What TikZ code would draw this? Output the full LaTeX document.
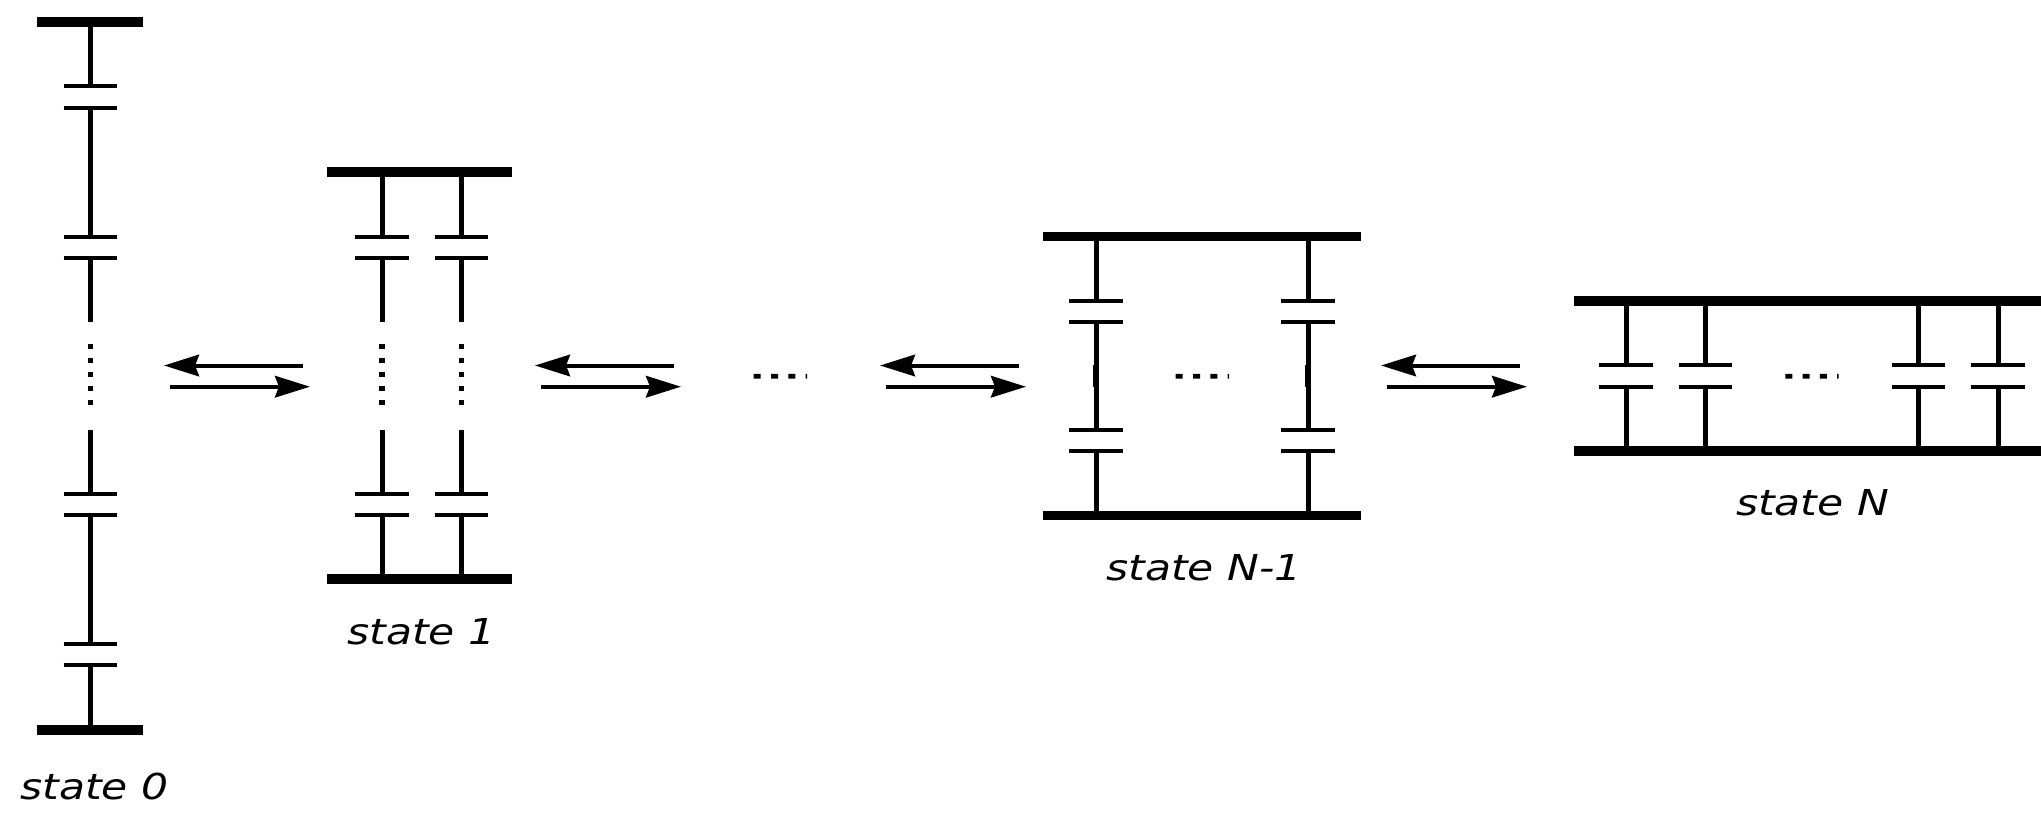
\documentclass[tikz,border=0pt]{standalone}
\usepackage{graphicx}
\usepackage{fontspec}
\setmainfont{DejaVu Sans}
\usetikzlibrary{arrows.meta}
\newcommand{\plates}[2]{\draw[plate] ({#1-26.7},#2) -- ({#1+26.7},#2);}
\newcommand{\wire}[3]{\draw[wirepart] (#1,#2) -- (#1,#3);}
\newcommand{\vdotsat}[1]{\draw[vdash] (#1,344) -- (#1,405);}
\newcommand{\hdotsat}[1]{\fill (#1,373.9) rectangle ++(7,4.6) (#1+17.3,373.9) rectangle ++(7,4.6) (#1+34.6,373.9) rectangle ++(7,4.6) (#1+51.9,373.9) rectangle ++(1.4,4.6);}
\tikzset{
  bar/.style={line width=9.2pt},
  wirepart/.style={line width=5pt},
  plate/.style={line width=4pt},
  vdash/.style={line width=5.6pt,dash pattern=on 5.4pt off 8.6pt},
  revarrow/.style={line width=4pt,-{Stealth[length=35pt,width=21.5pt,inset=4pt]}},
  statelabel/.style={anchor=base,inner sep=0pt,font=\fontsize{35.7pt}{40pt}\selectfont\itshape}
}
\newcommand{\lab}[1]{\scalebox{1.19}[1]{#1}}
\begin{document}
\begin{tikzpicture}[x=1pt,y=-1pt]
\useasboundingbox (0,0) rectangle (2041,819);
% state 0
\draw[bar] (37.3,22) -- (143.3,22);
\draw[bar] (37.3,730) -- (143.3,730);
\wire{90.3}{22}{86}\wire{90.3}{108}{237}\wire{90.3}{258}{322}
\vdotsat{90.3}
\wire{90.3}{430}{494}\wire{90.3}{515}{644}\wire{90.3}{665}{730}
\plates{90.3}{86}\plates{90.3}{108}\plates{90.3}{237}\plates{90.3}{258}
\plates{90.3}{494}\plates{90.3}{515}\plates{90.3}{644}\plates{90.3}{665}
\node[statelabel] (s0) at (94.5,799) {\lab{state 0}};
% state 1
\draw[bar] (326.5,172) -- (511.5,172);
\draw[bar] (326.5,579) -- (511.5,579);
\foreach \x in {382,461.5}{
  \wire{\x}{172}{237}\wire{\x}{258}{322}\vdotsat{\x}
  \wire{\x}{430}{494}\wire{\x}{515}{579}
  \plates{\x}{237}\plates{\x}{258}\plates{\x}{494}\plates{\x}{515}
}
\node[statelabel] (s1) at (421.5,644) {\lab{state 1}};
% state N-1
\draw[bar] (1042.7,236.7) -- (1361.3,236.7);
\draw[bar] (1042.7,515.3) -- (1361.3,515.3);
\foreach \x in {1096,1308}{
  \wire{\x}{237}{301}\wire{\x}{322}{430}\wire{\x}{451}{515}
  \draw[line width=6.8pt] (\x,365) -- (\x,387);
  \plates{\x}{301}\plates{\x}{322}\plates{\x}{430}\plates{\x}{451}
}
\node[statelabel] (sm) at (1204,580) {\lab{state N-1}};
% state N
\draw[bar] (1574,301) -- (2041,301);
\draw[bar] (1574,451) -- (2041,451);
\foreach \x in {1626,1705.7,1918.3,1998}{
  \wire{\x}{301}{365.3}\wire{\x}{386.7}{451}
  \plates{\x}{365.3}\plates{\x}{386.7}
}
\node[statelabel] (sn) at (1812.5,515.7) {\lab{state N}};
% horizontal dots
\hdotsat{753.7}
\hdotsat{1175.7}
\hdotsat{1785.3}
% reversible arrows
\foreach \o/\n in {0/a,371/b,716/c,1217/d}{
  \coordinate (\n1) at (303+\o,365.5);
  \coordinate (\n2) at (164+\o,365.5);
  \coordinate (\n3) at (170+\o,386.7);
  \coordinate (\n4) at (310+\o,386.7);
  \draw[revarrow] (\n1) -- (\n2);
  \draw[revarrow] (\n3) -- (\n4);
}
\end{tikzpicture}
\end{document}
